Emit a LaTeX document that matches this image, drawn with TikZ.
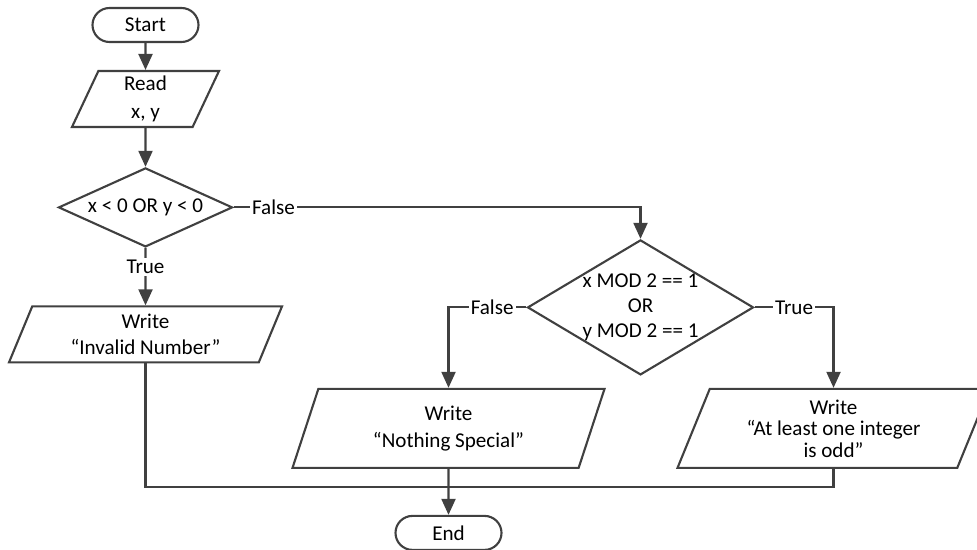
\documentclass[tikz,border=0pt]{standalone}
\usepackage{fontspec}
\setmainfont{Carlito}
\usepackage{tikz}
\usetikzlibrary{shapes.geometric, arrows.meta}
\definecolor{linegray}{HTML}{404040}
\tikzstyle{startstop} = [rectangle, 
rounded corners=0.425cm, 
minimum width=2.65cm, 
minimum height=0.85cm, 
text centered, 
draw=linegray, 
line width=1.5pt]
\tikzstyle{io} = [trapezium, 
trapezium left angle=63, 
trapezium right angle=117, 
trapezium stretches body, 
minimum height=1.4cm, 
inner sep=2pt, 
align=center, 
draw=linegray, 
line width=1.5pt]
\tikzstyle{decision} = [diamond, 
aspect=2.2, 
minimum width=4.35cm, 
minimum height=1.975cm, 
inner sep=0pt, 
text centered, 
draw=linegray, 
line width=1.5pt]
\tikzstyle{flowarrow} = [-{Triangle[length=4mm, width=3.5mm]}, draw=linegray, line width=1.5pt]
\tikzstyle{flowline} = [draw=linegray, line width=1.5pt]
\tikzstyle{lbl} = [fill=white, inner sep=1.5pt]

\begin{document}
\begin{tikzpicture}[node distance=2cm, font=\fontsize{15}{18}\selectfont]
\useasboundingbox (0,0) rectangle (24.425,-13.75);

\node (start) [startstop] at (3.6375,-0.625) {Start};
\node (read) [io, minimum width=3.675cm, below of=start, yshift=0.15cm] {Read\\[2pt]x, y};
\draw[flowarrow] (start) -- (read);

\node (dec1) [decision, below of=read, yshift=-0.71cm] {x < 0 OR y < 0};
\draw[flowarrow] (read) -- (dec1);

\node (invalid) [io, minimum width=6.825cm, below of=dec1, yshift=-1.175cm] {Write\\``Invalid Number''};
\draw[flowarrow] (dec1) -- node[lbl, pos=0.33] {True} (invalid);

\node (dec2) [decision, minimum width=5.65cm, minimum height=3.375cm, right of=dec1, xshift=10.375cm, yshift=-2.5cm] {};
\node (dec2txt) [align=center] at (dec2) {x MOD 2 == 1\\OR\\y MOD 2 == 1};
\draw[flowarrow] (dec1) -| node[lbl, pos=0.049] {False} (dec2);

\node (nothing) [io, minimum height=1.975cm, minimum width=7.8cm, below of=dec2, xshift=-4.8cm, yshift=-1.025cm] {Write\\[1.2pt]``Nothing Special''};
\draw[flowarrow] (dec2) -| node[lbl, pos=0.22] {False} (nothing);

\node (odd) [io, minimum height=1.975cm, minimum width=7.8cm, below of=dec2, xshift=4.825cm, yshift=-1.025cm] {Write\\[-2.7pt]``At least one integer\\[-2.7pt]is odd''};
\draw[flowarrow] (dec2) -| node[lbl, pos=0.25] {True} (odd);

\node (end) [startstop, below of=nothing, yshift=-0.6125cm] {End};
\path (nothing.center) ++(0,-1.4625) coordinate (merge);
\draw[flowline] (invalid) |- (merge);
\draw[flowline] (odd) |- (merge);
\draw[flowarrow] (nothing) -- (end);

\end{tikzpicture}
\end{document}
